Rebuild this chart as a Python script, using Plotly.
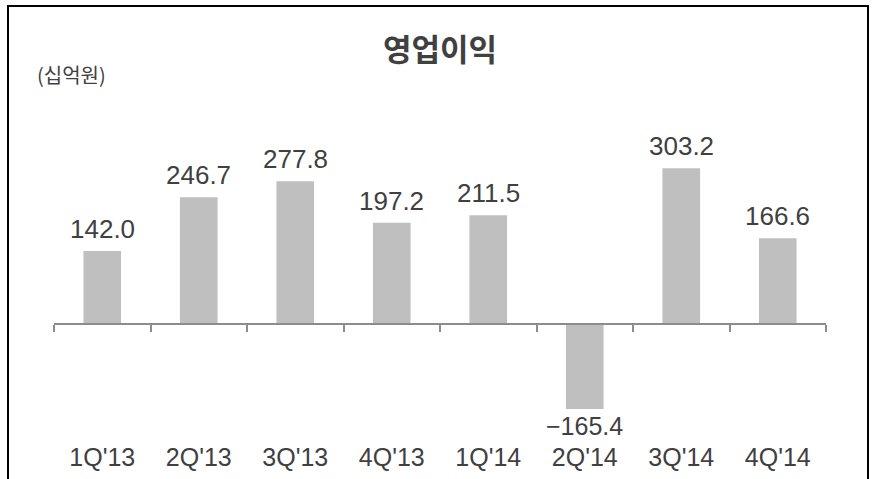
import plotly.graph_objects as go

categories = ["1Q'13", "2Q'13", "3Q'13", "4Q'13", "1Q'14", "2Q'14", "3Q'14", "4Q'14"]
operating_profit = [142.0, 246.7, 277.8, 197.2, 211.5, -165.4, 303.2, 166.6]
title_text = "영업이익"
unit_text = "(십억원)"

W, H = 874, 479
L, R, T, B = 54, 48, 90, 40
plot_h = H - T - B
zero_px = 324
scale = 0.514  # px per unit
ymax = (zero_px - T) / scale
ymin = -((H - B) - zero_px) / scale
zero_frac = (0 - ymin) / (ymax - ymin)

num_font = "Liberation Sans, Noto Sans CJK KR, sans-serif"
kr_font = "Noto Sans CJK KR, sans-serif"
txt_color = "#404040"

labels = [f"{v:.1f}".replace("-", "\u2212") for v in operating_profit]

fig = go.Figure()
fig.add_trace(go.Bar(
    x=categories, y=operating_profit,
    marker=dict(color="#BFBFBF", line=dict(width=0)),
    width=0.39, hoverinfo="skip",
))
fig.add_trace(go.Scatter(
    x=categories, y=operating_profit, xaxis="x2", yaxis="y",
    mode="markers", marker=dict(opacity=0), hoverinfo="skip", showlegend=False,
))

annotations = [dict(text=unit_text, xref="paper", yref="paper",
                    x=(35 - L) / (W - L - R), y=((H - B) - 74) / plot_h,
                    xanchor="left", yanchor="middle", showarrow=False,
                    font=dict(family=kr_font, size=20, color=txt_color))]
for c, v, t in zip(categories, operating_profit, labels):
    annotations.append(dict(
        x=c, y=v, xref="x", yref="y", text=t, showarrow=False,
        xanchor="center", yanchor="bottom" if v >= 0 else "top",
        yshift=6 if v >= 0 else -2, borderpad=0,
        font=dict(family=num_font, size=26 if v >= 0 else 25, color=txt_color)))

fig.update_layout(
    width=W, height=H,
    margin=dict(l=L, r=R, t=T, b=B, autoexpand=False),
    paper_bgcolor="white", plot_bgcolor="white",
    showlegend=False,
    title=dict(text=f"<b>{title_text}</b>", x=0.5, xref="paper", xanchor="center",
               y=1 - 50 / H, yref="container", yanchor="middle",
               font=dict(family=kr_font, size=31, color=txt_color)),
    xaxis=dict(type="category", categoryorder="array", categoryarray=categories,
               range=[-0.5, len(categories) - 0.5], automargin=False,
               showline=False, showgrid=False, zeroline=False, ticks="",
               ticklabelstandoff=1,
               tickfont=dict(family=num_font, size=25, color=txt_color)),
    xaxis2=dict(type="category", categoryorder="array", categoryarray=categories,
                range=[-0.5, len(categories) - 0.5], automargin=False,
                overlaying="x", anchor="free", position=zero_frac, side="bottom",
                showline=True, linecolor="#8C8C8C", linewidth=2,
                ticks="outside", tickson="boundaries", ticklen=7, tickwidth=2,
                tickcolor="#8C8C8C", showticklabels=False, showgrid=False, zeroline=False),
    yaxis=dict(range=[ymin, ymax], visible=False, showgrid=False, zeroline=False,
               automargin=False),
    annotations=annotations,
    shapes=[dict(type="rect", xref="paper", yref="paper",
                 x0=(8 - L) / (W - L - R), x1=(868 - L) / (W - L - R),
                 y0=((H - B) - 495) / plot_h, y1=((H - B) - 6) / plot_h,
                 line=dict(color="black", width=2), fillcolor="rgba(0,0,0,0)")],
)

fig.write_html("out.html", config={"displayModeBar": False},
               post_script="document.body.style.margin='0';document.body.style.overflow='hidden';")
